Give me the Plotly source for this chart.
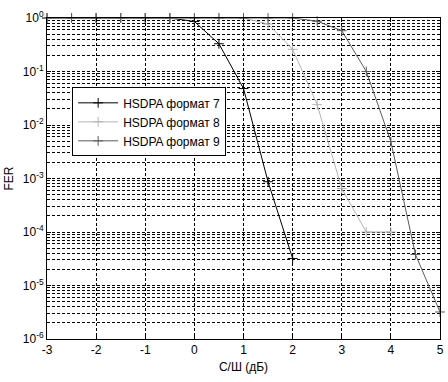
import plotly.graph_objects as go

snr7 = [-3.0, -2.5, -2.0, -1.5, -1.0, -0.5, 0.0, 0.5, 1.0, 1.5, 2.0]
fer7 = [1.0, 1.0, 1.0, 1.0, 1.0, 1.0, 0.86, 0.33, 0.048, 8.7e-4, 3.2e-5]

snr8 = [-3.0, -2.5, -2.0, -1.5, -1.0, -0.5, 0.0, 0.5, 1.0, 1.5, 2.0, 2.5, 3.0, 3.5, 4.0]
fer8 = [1.0, 1.0, 1.0, 1.0, 1.0, 1.0, 1.0, 1.0, 1.0, 0.77, 0.26, 0.024, 6.5e-4, 1.0e-4, 1.0e-4]

snr9 = [-3.0, -2.5, -2.0, -1.5, -1.0, -0.5, 0.0, 0.5, 1.0, 1.5, 2.0, 2.5, 3.0, 3.5, 4.0, 4.5, 5.0]
fer9 = [1.0, 1.0, 1.0, 1.0, 1.0, 1.0, 1.0, 1.0, 1.0, 1.0, 1.0, 0.87, 0.58, 0.1, 4.9e-3, 3.8e-5, 3.2e-6]

names = ["HSDPA формат 7", "HSDPA формат 8", "HSDPA формат 9"]
colors = ["#000000", "#b4b4b4", "#5a5a5a"]

x_ticks = [-3, -2, -1, 0, 1, 2, 3, 4, 5]
y_exps = [0, -1, -2, -3, -4, -5, -6]
y_minor = [m * 10.0 ** e for e in range(-6, 0) for m in range(2, 10)]

fig = go.Figure()
for xs, ys, nm, c in zip([snr7, snr8, snr9], [fer7, fer8, fer9], names, colors):
    fig.add_trace(go.Scatter(
        x=xs, y=ys, name=nm, mode="lines+markers",
        line=dict(color=c, width=1),
        marker=dict(symbol="cross-thin", size=7, line=dict(color=c, width=1), color=c),
        cliponaxis=False,
    ))

grid_dash = "3px,2px"
fig.update_layout(
    width=448, height=382,
    margin=dict(l=47, r=8, t=18, b=43, autoexpand=False),
    paper_bgcolor="white", plot_bgcolor="white",
    font=dict(family="Liberation Sans, Arial, sans-serif", size=12, color="black"),
    showlegend=True,
    legend=dict(
        x=0.064, y=0.784, xanchor="left", yanchor="top",
        bgcolor="white", bordercolor="black", borderwidth=1,
        font=dict(size=12), itemwidth=40, tracegroupgap=0,
    ),
    xaxis=dict(
        range=[-3, 5], tickvals=x_ticks, ticktext=[str(v) for v in x_ticks],
        automargin=False,
        showgrid=True, gridcolor="#000000", griddash=grid_dash, gridwidth=1,
        zeroline=False, showline=True, linecolor="black", linewidth=1, mirror="ticks",
        ticks="inside", ticklen=4, tickcolor="black",
        title=dict(text="С/Ш (дБ)", standoff=6, font=dict(size=12)),
        tickfont=dict(size=12),
    ),
    yaxis=dict(
        type="log", range=[-6, 0],
        tickvals=[10.0 ** e for e in y_exps],
        ticktext=["10<sup>%d</sup>" % e for e in y_exps],
        automargin=False,
        showgrid=True, gridcolor="#000000", griddash=grid_dash, gridwidth=1,
        minor=dict(tickvals=y_minor, showgrid=True, gridcolor="#000000",
                   griddash=grid_dash, gridwidth=1, ticks=""),
        zeroline=False, showline=True, linecolor="black", linewidth=1, mirror="ticks",
        ticks="inside", ticklen=4, tickcolor="black",
        title=dict(text="FER", standoff=6, font=dict(size=12)),
        tickfont=dict(size=12),
    ),
)

fig.write_html("out.html", config={"displayModeBar": False},
               post_script="document.body.style.margin='0';document.body.style.padding='0';")
